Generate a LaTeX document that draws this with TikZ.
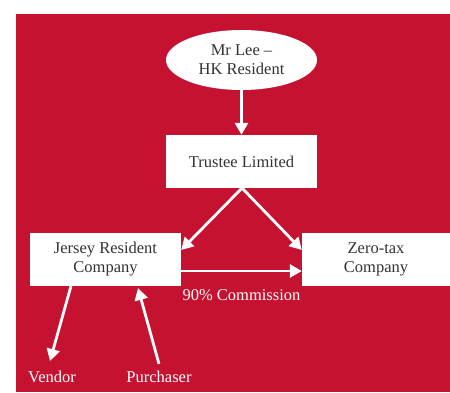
\documentclass[tikz,border=0pt]{standalone}
\usepackage{fontspec}
\setmainfont{Liberation Serif}
\usetikzlibrary{arrows.meta,shapes.geometric}
\definecolor{bgred}{HTML}{C41230}
\definecolor{txt}{HTML}{333333}
\begin{document}
\begin{tikzpicture}[x=1pt,y=-1pt,
  box/.style={draw=none,fill=white,minimum width=151pt,minimum height=53pt,align=center,font=\fontsize{16.5}{19}\selectfont,text=txt},
  arr/.style={draw=white,line width=2.8pt,-{Triangle[length=12pt,width=13pt]}},
  lbl/.style={text=white,font=\fontsize{16.5}{19}\selectfont}]
\useasboundingbox (0,0) rectangle (450,392);
\fill[white] (0,0) rectangle (450,392);
\fill[bgred] (16,14) rectangle (450,392);
\node[ellipse,fill=white,minimum width=151pt,minimum height=60pt,inner sep=0pt,align=center,font=\fontsize{16.5}{19}\selectfont,text=txt] (lee) at (241.5,60) {Mr Lee --\\HK Resident};
\node[box] (trustee) at (241.5,161.5) {Trustee Limited};
\node[box] (jersey) at (105.5,259.5) {Jersey Resident\\Company};
\node[box,minimum width=148pt] (zero) at (376,259.5) {Zero-tax\\Company};
\node[lbl] (vendor) at (52,377) {Vendor};
\node[lbl] (purch) at (159,377) {Purchaser};
\node[lbl] (comm) at (241.5,295) {90\% Commission};
\coordinate (tb) at (242,188);
\coordinate (vtip) at (50,361);
\coordinate (ptail) at (159,364);
\draw[arr] (lee.south) -- (trustee.north);
\draw[arr] (tb) -- (jersey.east |- 0,250);
\draw[arr] (tb) -- (zero.west |- 0,250);
\draw[arr] (jersey.east |- 0,271) -- (zero.west |- 0,271);
\draw[arr] (71,286) -- (vtip);
\draw[arr] (ptail) -- (138,288);
\end{tikzpicture}
\end{document}
